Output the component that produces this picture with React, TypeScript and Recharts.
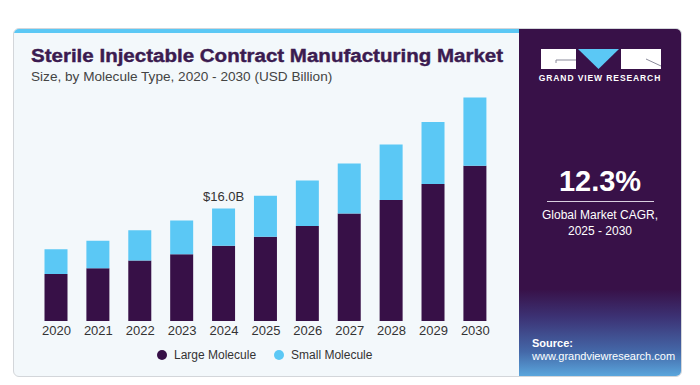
import React from 'react';
import { Bar, BarChart, LabelList, XAxis, YAxis } from 'recharts';

// Values (USD billion)
const years = ['2020', '2021', '2022', '2023', '2024', '2025', '2026', '2027', '2028', '2029', '2030'];
const largeMolecule = [6.7, 7.5, 8.6, 9.5, 10.7, 12.0, 13.5, 15.3, 17.2, 19.5, 22.1];
const smallMolecule = [3.5, 3.9, 4.3, 4.8, 5.3, 5.8, 6.5, 7.1, 7.9, 8.8, 9.7];
const calloutYear = '2024';
const calloutText = '$16.0B';

const DARK = '#371047';
const LIGHT = '#5bc8f5';
const FONT = '"Liberation Sans", Arial, sans-serif';

const chartData = years.map((year, i) => ({
  year,
  large: largeMolecule[i],
  small: smallMolecule[i],
  callout: year === calloutYear ? calloutText : '',
}));

const legendItems = [
  { label: 'Large Molecule', color: DARK },
  { label: 'Small Molecule', color: LIGHT },
];

function Logo() {
  return (
    <svg width={122} height={22} style={{ position: 'absolute', left: 22, top: 20 }}>
      <rect x={0} y={0} width={35} height={20} fill="#fff" />
      <line x1={15} y1={11} x2={35} y2={11} stroke="#8a8a9a" strokeWidth={1} />
      <line x1={15} y1={11} x2={15} y2={14} stroke="#8a8a9a" strokeWidth={1} />
      <polygon points="37,0 78,0 57.5,20" fill={LIGHT} />
      <rect x={80} y={0} width={40} height={20} fill="#fff" />
      <line x1={105} y1={10} x2={120} y2={17} stroke="#8a8a9a" strokeWidth={1} />
    </svg>
  );
}

export default function App() {
  return (
    <div
      style={{
        position: 'absolute',
        left: 0,
        top: 0,
        width: 700,
        height: 385,
        background: '#fff',
        fontFamily: FONT,
      }}
    >
      {/* card */}
      <div
        style={{
          position: 'absolute',
          left: 13,
          top: 28,
          width: 667,
          height: 347,
          border: '1px solid #d3d6da',
          borderRadius: 6,
          background: '#f3f8fb',
          overflow: 'hidden',
        }}
      >
        {/* top stripe */}
        <div style={{ position: 'absolute', left: 0, top: 0, width: 506, height: 4, background: LIGHT }} />

        {/* title */}
        <div
          style={{
            position: 'absolute',
            left: 17,
            top: 17,
            fontSize: 18,
            fontWeight: 900,
            color: '#3b1b50',
            whiteSpace: 'nowrap',
            transform: 'scaleX(1.14)',
            transformOrigin: 'left top',
            WebkitTextStroke: '0.4px #3b1b50',
          }}
        >
          Sterile Injectable Contract Manufacturing Market
        </div>
        <div
          style={{
            position: 'absolute',
            left: 17,
            top: 40,
            fontSize: 13.6,
            color: '#444',
            whiteSpace: 'nowrap',
          }}
        >
          Size, by Molecule Type, 2020 - 2030 (USD Billion)
        </div>

        {/* chart */}
        <div style={{ position: 'absolute', left: 0, top: 0 }}>
          <BarChart
            width={505}
            height={348}
            data={chartData}
            margin={{ top: 60, right: 22.7, bottom: 26, left: 21.5 }}
            barSize={23}
          >
            <XAxis
              dataKey="year"
              axisLine={false}
              tickLine={false}
              height={30}
              tickSize={3}
              tick={{ fill: '#333', fontSize: 13, fontFamily: FONT }}
              interval={0}
            />
            <YAxis hide domain={[0, 33]} />
            <Bar dataKey="large" stackId="a" fill={DARK} isAnimationActive={false} />
            <Bar dataKey="small" stackId="a" fill={LIGHT} isAnimationActive={false}>
              <LabelList
                dataKey="callout"
                position="top"
                offset={8}
                style={{ fill: '#333', fontSize: 13, fontFamily: FONT }}
              />
            </Bar>
          </BarChart>
        </div>

        {/* legend */}
        <div
          style={{
            position: 'absolute',
            left: 143,
            top: 319,
            display: 'flex',
            alignItems: 'center',
            fontSize: 12,
            color: '#333',
          }}
        >
          {legendItems.map((item) => (
            <div key={item.label} style={{ display: 'flex', alignItems: 'center', marginRight: 18 }}>
              <span
                style={{
                  display: 'inline-block',
                  width: 10,
                  height: 10,
                  borderRadius: 5,
                  background: item.color,
                  marginRight: 7,
                }}
              />
              {item.label}
            </div>
          ))}
        </div>

        {/* right panel */}
        <div
          style={{
            position: 'absolute',
            left: 505,
            top: 0,
            width: 162,
            height: 347,
            background:
              'linear-gradient(to bottom, #381148 0%, #381148 75%, #3c3274 83%, #4468a8 93%, #5aa6dc 100%)',
            color: '#fff',
          }}
        >
          <Logo />
          <div
            style={{
              position: 'absolute',
              left: 0,
              width: 162,
              top: 44,
              textAlign: 'center',
              fontSize: 8.5,
              fontWeight: 700,
              letterSpacing: 0.9,
            }}
          >
            GRAND VIEW RESEARCH
          </div>
          <div
            style={{
              position: 'absolute',
              left: 0,
              width: 162,
              top: 136,
              textAlign: 'center',
              fontSize: 29,
              fontWeight: 700,
            }}
          >
            12.3%
          </div>
          <div style={{ position: 'absolute', left: 28, top: 172, width: 107, height: 1, background: '#d8cfe0' }} />
          <div
            style={{
              position: 'absolute',
              left: 0,
              width: 162,
              top: 178,
              textAlign: 'center',
              fontSize: 12,
              lineHeight: '16px',
            }}
          >
            Global Market CAGR,
            <br />
            2025 - 2030
          </div>
          <div style={{ position: 'absolute', left: 13, top: 308, fontSize: 11, fontWeight: 700 }}>Source:</div>
          <div style={{ position: 'absolute', left: 13, top: 321, fontSize: 11 }}>www.grandviewresearch.com</div>
        </div>
      </div>
    </div>
  );
}
